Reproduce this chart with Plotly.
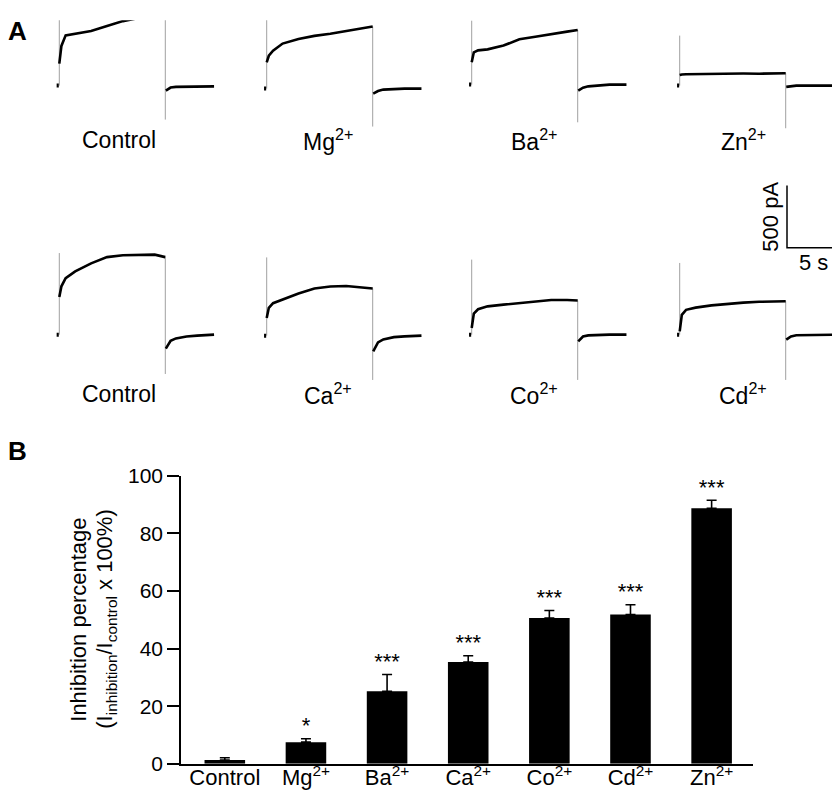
import plotly.graph_objects as go

# ---------------- Panel A data (currents in pA, time in s) ----------------
trace_labels = ["Control", "Mg<sup>2+</sup>", "Ba<sup>2+</sup>", "Zn<sup>2+</sup>",
                "Control", "Ca<sup>2+</sup>", "Co<sup>2+</sup>", "Cd<sup>2+</sup>"]
t_pre = [-0.25, -0.05]
t_pulse = [0, 0.2, 0.6, 1.5, 3, 4.5, 6, 7.5, 9, 10]
t_tail = [10.05, 10.5, 11, 12, 13, 14.6]

pulse_control_a = [177, 320, 405, 420, 440, 480, 520, 545, 550, 545]
pulse_mg = [212, 265, 305, 363, 400, 425, 442, 462, 485, 500]
pulse_ba = [180, 260, 276, 284, 315, 365, 385, 408, 427, 440]
pulse_zn = [85, 90, 92, 93, 95, 99, 97, 96, 97, 99]
pulse_control_b = [303, 390, 455, 510, 575, 625, 640, 645, 645, 625]
pulse_ca = [142, 225, 262, 290, 340, 380, 396, 400, 390, 380]
pulse_co = [54, 170, 205, 228, 242, 254, 267, 280, 280, 275]
pulse_cd = [27, 160, 200, 218, 236, 248, 258, 265, 269, 269]

tail_control_a = [-40, -16, -10, -8, -8, -6]
tail_mg = [-40, -20, -8, -2, 0, 0]
tail_ba = [-48, -25, -14, -4, 0, 0]
tail_zn = [-10, -3, 0, 0, 0, 0]
tail_control_b = [-113, -50, -30, -15, -8, 0]
tail_ca = [-127, -55, -30, -12, -6, 0]
tail_co = [-54, -15, -6, -2, 0, 0]
tail_cd = [-40, -14, -5, -2, 0, 0]

spike_on = [550, 554, 516, 403, 658, 631, 605, 578]
spike_off = [-274, -306, -304, -344, -317, -357, -365, -365]

scale_time_s = 5
scale_current_pA = 500

# ---------------- Panel B data ----------------
categories = ["Control", "Mg<sup>2+</sup>", "Ba<sup>2+</sup>", "Ca<sup>2+</sup>",
              "Co<sup>2+</sup>", "Cd<sup>2+</sup>", "Zn<sup>2+</sup>"]
inhibition = [1.3, 7.5, 25.2, 35.3, 50.6, 51.8, 88.7]
sem = [0.8, 1.2, 5.8, 2.2, 2.6, 3.4, 2.8]
stars = ["", "*", "***", "***", "***", "***", "***"]
y_ticks = [0, 20, 40, 60, 80, 100]

pulses = [pulse_control_a, pulse_mg, pulse_ba, pulse_zn,
          pulse_control_b, pulse_ca, pulse_co, pulse_cd]
tails = [tail_control_a, tail_mg, tail_ba, tail_zn,
         tail_control_b, tail_ca, tail_co, tail_cd]

# ---------------- layout geometry ----------------
# positions are given in target-picture pixels and mapped onto the figure
W, H = 832, 800
OX = 8                   # horizontal page offset
VS, VOFF = 0.971, 20.0   # vertical picture scale / page offset
FONT = "Arial, Liberation Sans, sans-serif"
PX_PER_S = 10.6
PX_PER_PA = 0.124
step_px = [59.3, 266.7, 471.7, 679.7]
base_px = [85, 88, 84, 85, 334, 335, 334, 334]
TOP_LIMIT = VS * VOFF + 0.2


def fx(px):
    return min(1.0, max(0.0, (px - OX) / W))


def fy(py):
    return min(1.0, max(0.0, 1 - (py / VS - VOFF) / H))


fig = go.Figure()
layout = dict(width=W, height=H, margin=dict(l=0, r=0, t=0, b=0, pad=0),
              paper_bgcolor="white", plot_bgcolor="rgba(0,0,0,0)",
              showlegend=False, font=dict(family=FONT, color="black"))
annotations = []

for i in range(8):
    k = i + 1
    xa = "x" if k == 1 else f"x{k}"
    ya = "y" if k == 1 else f"y{k}"
    sx = step_px[i % 4]
    base = base_px[i]
    left = max(sx - 0.6 * PX_PER_S, OX)
    right = min(sx + 15.2 * PX_PER_S, OX + W)
    top = max(base - 700 * PX_PER_PA, TOP_LIMIT)
    bottom = base + 420 * PX_PER_PA
    layout["xaxis" if k == 1 else f"xaxis{k}"] = dict(
        domain=[fx(left), fx(right)],
        range=[(left - sx) / PX_PER_S, (right - sx) / PX_PER_S],
        visible=False, anchor=ya)
    layout["yaxis" if k == 1 else f"yaxis{k}"] = dict(
        domain=[fy(bottom), fy(top)],
        range=[(base - bottom) / PX_PER_PA, (base - top) / PX_PER_PA],
        visible=False, anchor=xa)
    # capacitive transients (grey)
    fig.add_trace(go.Scatter(
        x=[0, 0, None, t_pulse[-1], t_pulse[-1]],
        y=[0, spike_on[i], None, pulses[i][-1], spike_off[i]],
        mode="lines", line=dict(color="#a0a0a0", width=1),
        xaxis=xa, yaxis=ya, hoverinfo="skip"))
    # holding level
    fig.add_trace(go.Scatter(x=t_pre, y=[0, 0], mode="lines",
                             line=dict(color="black", width=4),
                             xaxis=xa, yaxis=ya, hoverinfo="skip"))
    # current trace
    fig.add_trace(go.Scatter(
        x=t_pulse + [None] + t_tail,
        y=pulses[i] + [None] + tails[i],
        mode="lines", line=dict(color="black", width=2.6),
        xaxis=xa, yaxis=ya))

# trace labels
label_x = [119, 328, 534, 743]
label_y = [139, 393]
for i, lab in enumerate(trace_labels):
    annotations.append(dict(text=lab, x=fx(label_x[i % 4]), y=fy(label_y[i // 4]),
                            xref="paper", yref="paper", showarrow=False,
                            xanchor="center", yanchor="middle",
                            font=dict(size=23, family=FONT)))

# scale bar drawn in its own axes with the trace scale
sb_left, sb_right, sb_top, sb_bottom = 780, 840, 178, 252
sb_x0, sb_y0 = 787, 247
layout["xaxis9"] = dict(domain=[fx(sb_left), fx(sb_right)],
                        range=[(sb_left - sb_x0) / PX_PER_S, (sb_right - sb_x0) / PX_PER_S],
                        visible=False, anchor="y9")
layout["yaxis9"] = dict(domain=[fy(sb_bottom), fy(sb_top)],
                        range=[(sb_y0 - sb_bottom) / PX_PER_PA, (sb_y0 - sb_top) / PX_PER_PA],
                        visible=False, anchor="x9")
fig.add_trace(go.Scatter(x=[0, 0, scale_time_s], y=[scale_current_pA, 0, 0],
                         mode="lines", line=dict(color="black", width=1.5),
                         xaxis="x9", yaxis="y9", hoverinfo="skip"))
annotations.append(dict(text=f"{scale_current_pA} pA", x=fx(771), y=fy(216),
                        xref="paper", yref="paper", showarrow=False, textangle=-90,
                        xanchor="center", yanchor="middle", font=dict(size=22, family=FONT)))
annotations.append(dict(text=f"{scale_time_s} s", x=fx(813), y=fy(262),
                        xref="paper", yref="paper", showarrow=False,
                        xanchor="center", yanchor="middle", font=dict(size=22, family=FONT)))

# ---------------- Panel B ----------------
bx0, bx1 = 181, 753
by_top, by_bot = 475, 763
layout["xaxis10"] = dict(domain=[fx(bx0), fx(bx1)], range=[-0.54, 6.51],
                         anchor="y10", showline=True, linecolor="black", linewidth=1.6,
                         ticks="", showgrid=False, zeroline=False, ticklabelstandoff=-7,
                         tickfont=dict(size=22, family=FONT), type="category")
layout["yaxis10"] = dict(domain=[fy(by_bot), fy(by_top)], range=[0, 100],
                         anchor="x10", showline=True, linecolor="black", linewidth=1.6,
                         ticks="outside", ticklen=12, tickwidth=1.6, tickcolor="black",
                         tickvals=y_ticks, showgrid=False, zeroline=False,
                         tickfont=dict(size=21, family=FONT))
fig.add_trace(go.Bar(x=categories, y=inhibition, width=0.5,
                     marker=dict(color="black", line=dict(width=0)),
                     error_y=dict(type="data", array=sem, arrayminus=[0] * len(sem),
                                  symmetric=False, color="black", thickness=1.6, width=5),
                     xaxis="x10", yaxis="y10"))
fig.add_trace(go.Scatter(x=categories, y=[m + s for m, s in zip(inhibition, sem)],
                         mode="text", text=stars, textposition="top center",
                         textfont=dict(size=22, family=FONT, color="black"),
                         xaxis="x10", yaxis="y10", cliponaxis=False))

annotations.append(dict(text="Inhibition percentage", x=fx(79), y=fy(619),
                        xref="paper", yref="paper", showarrow=False, textangle=-90,
                        xanchor="center", yanchor="middle", font=dict(size=22, family=FONT)))
annotations.append(dict(text="(I<sub>inhibition</sub>/I<sub>control</sub> x 100%)",
                        x=fx(106), y=fy(619),
                        xref="paper", yref="paper", showarrow=False, textangle=-90,
                        xanchor="center", yanchor="middle", font=dict(size=22, family=FONT)))

# panel letters
annotations.append(dict(text="<b>A</b>", x=fx(17), y=fy(30), xref="paper", yref="paper",
                        showarrow=False, xanchor="center", yanchor="middle",
                        font=dict(size=26, family=FONT)))
annotations.append(dict(text="<b>B</b>", x=fx(17), y=fy(450), xref="paper", yref="paper",
                        showarrow=False, xanchor="center", yanchor="middle",
                        font=dict(size=26, family=FONT)))

layout["annotations"] = annotations
fig.update_layout(**layout)
fig.write_html("out.html")
